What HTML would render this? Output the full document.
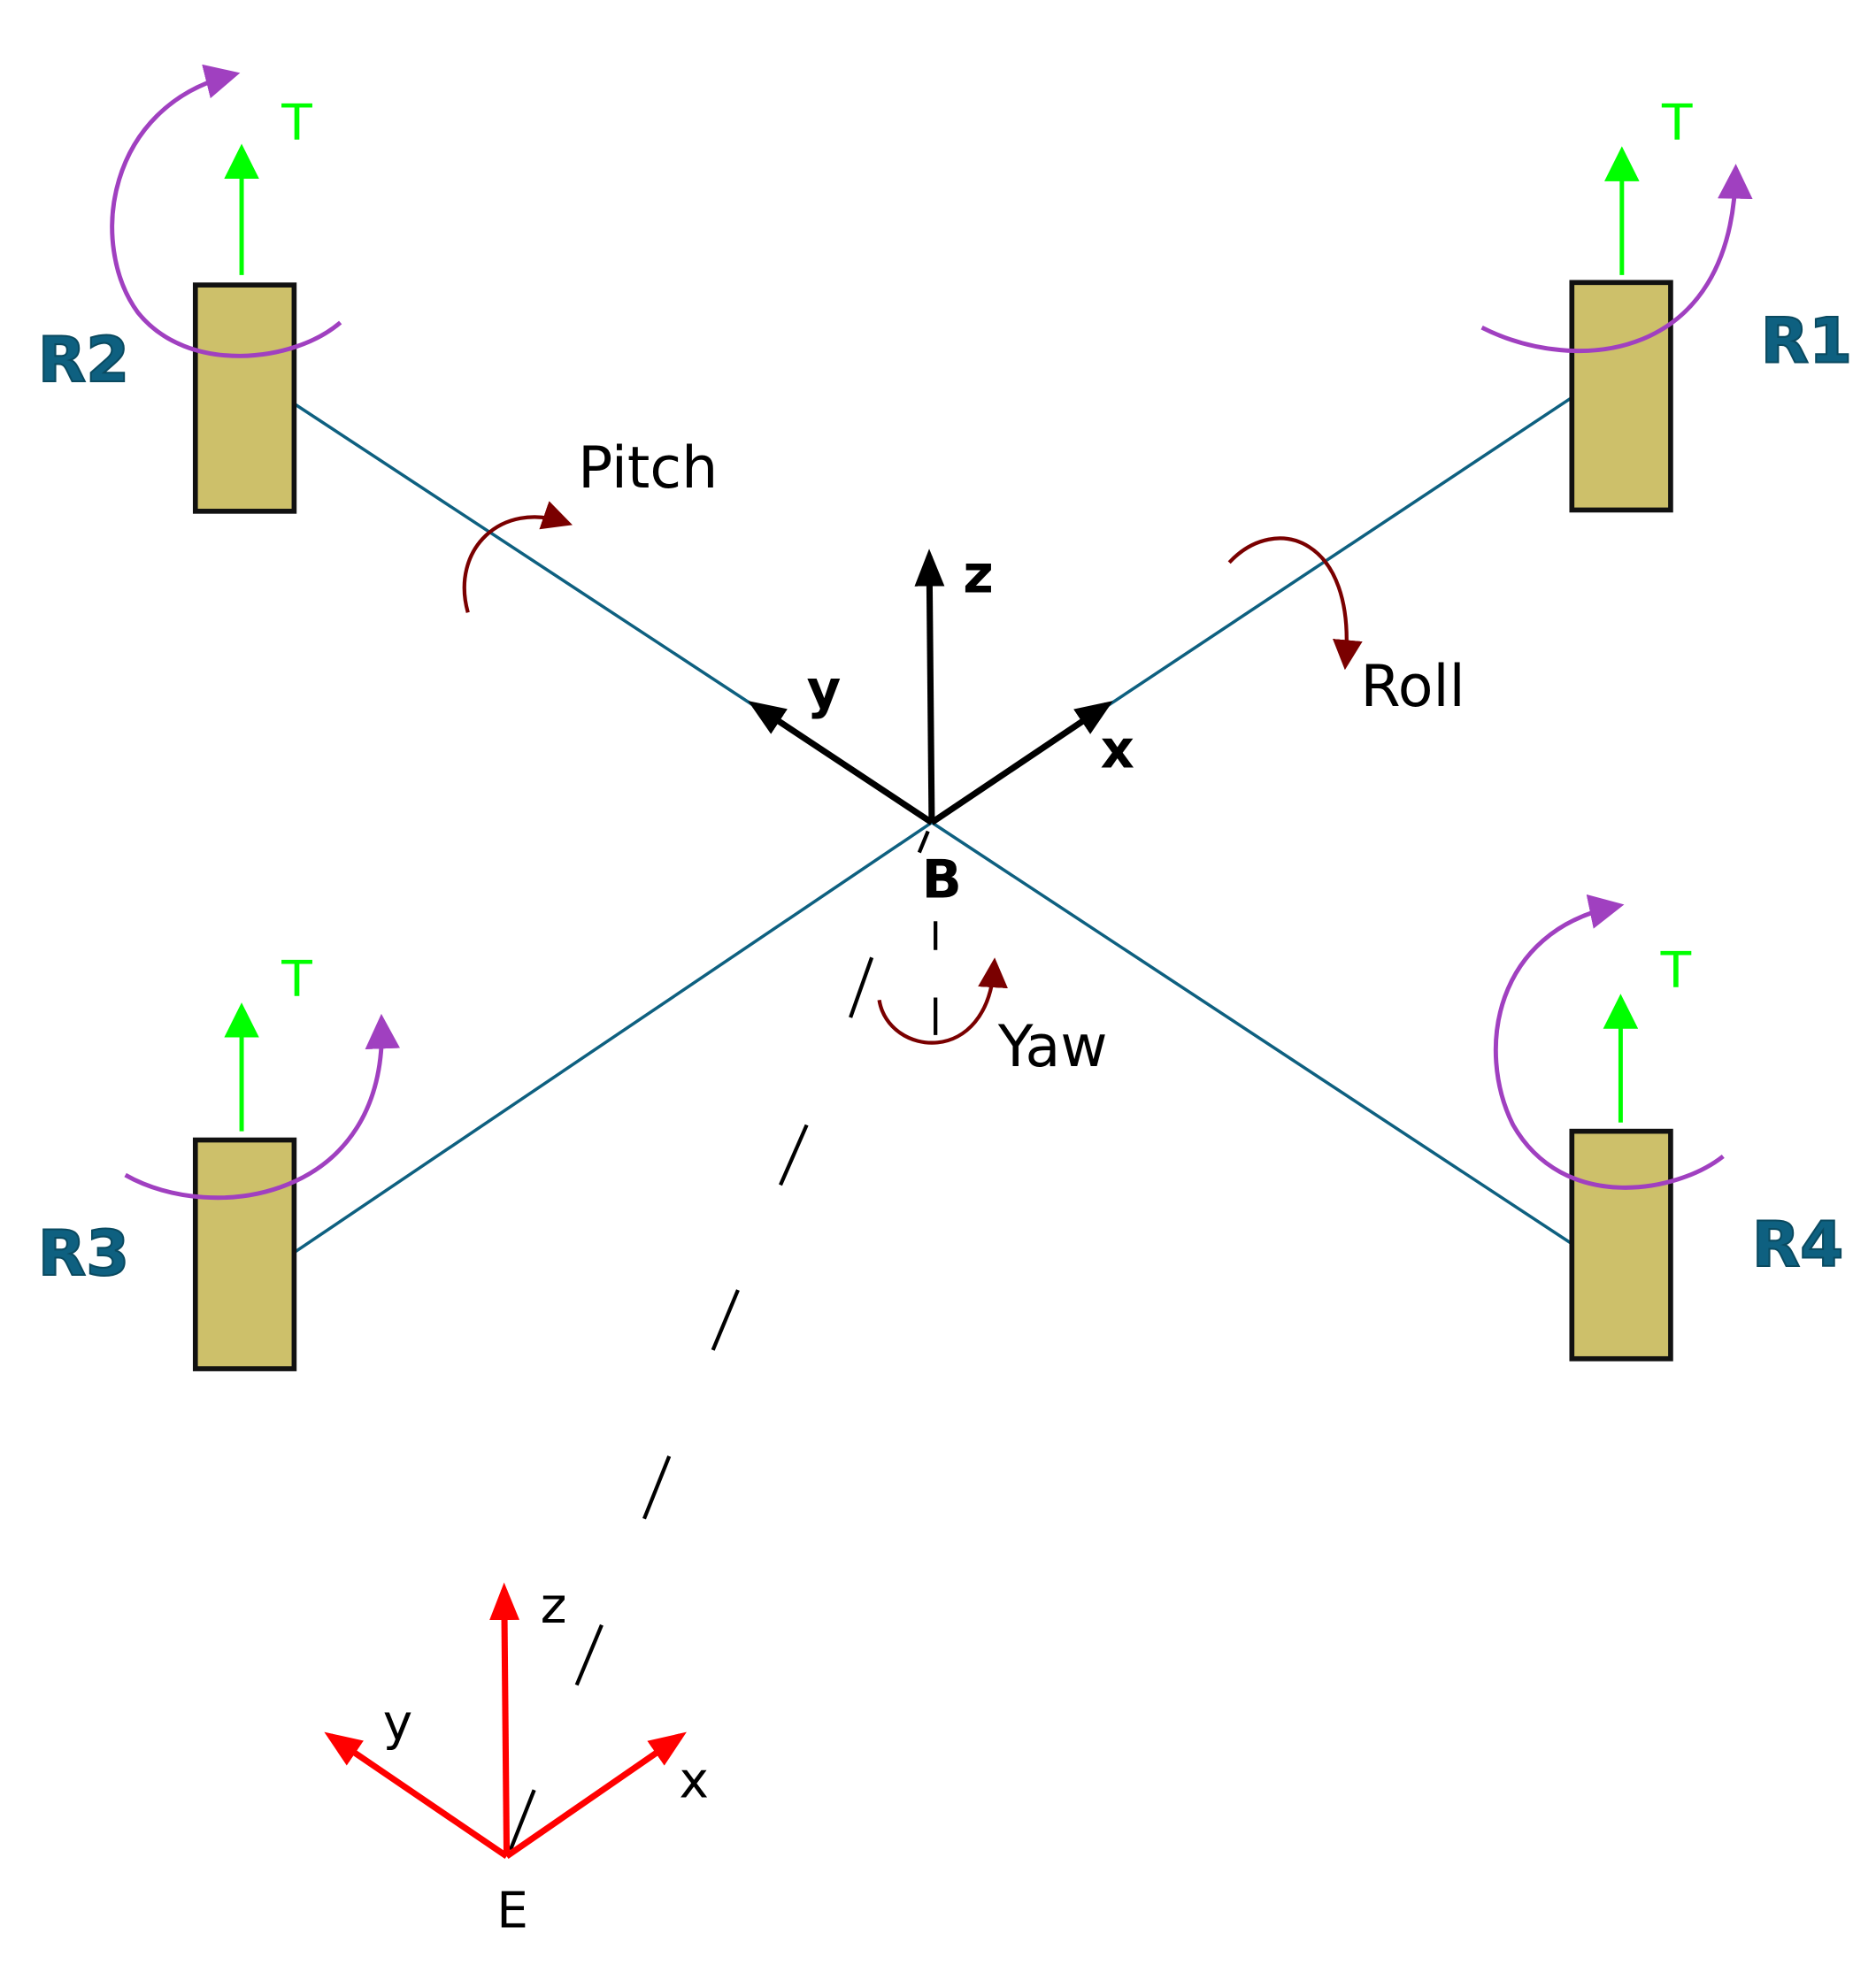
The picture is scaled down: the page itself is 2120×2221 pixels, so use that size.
<!DOCTYPE html>
<html><head><meta charset="utf-8"><style>
html,body{margin:0;padding:0;background:#fff;}
svg{display:block;}
text{font-family:"DejaVu Sans","Liberation Sans",sans-serif;}
</style></head><body>
<svg width="2120" height="2221" viewBox="0 0 1500 1572" xmlns="http://www.w3.org/2000/svg">
<defs>
<marker id="ab" markerWidth="30" markerHeight="30" refX="24" refY="12" orient="auto" markerUnits="userSpaceOnUse"><path d="M0,0 L30,12 L0,24 z" fill="#000"/></marker>
<marker id="ag" markerWidth="8" markerHeight="8" refX="6" refY="4" orient="auto" markerUnits="strokeWidth"><path d="M0,0 L8,4 L0,8 z" fill="#00ff00"/></marker>
<marker id="ar" markerWidth="30" markerHeight="30" refX="24" refY="12" orient="auto" markerUnits="userSpaceOnUse"><path d="M0,0 L30,12 L0,24 z" fill="#ff0000"/></marker>
<marker id="ap" markerWidth="8" markerHeight="8" refX="6" refY="4" orient="auto" markerUnits="strokeWidth"><path d="M0,0 L8,4 L0,8 z" fill="#a040c0"/></marker>
<marker id="ad" markerWidth="8" markerHeight="8" refX="6" refY="4" orient="auto" markerUnits="strokeWidth"><path d="M0,0 L8,4 L0,8 z" fill="#7a0000"/></marker>
</defs>

<g stroke="#0e6080" stroke-width="2.5" fill="none">
<line x1="232" y1="321" x2="745" y2="658"/>
<line x1="1257" y1="318" x2="745" y2="658"/>
<line x1="235" y1="1002" x2="745" y2="658"/>
<line x1="1257" y1="995" x2="745" y2="658"/>
</g>

<g fill="#cdc06a" stroke="#111" stroke-width="4">
<rect x="156" y="228" width="79" height="181"/>
<rect x="1257" y="226" width="79" height="182"/>
<rect x="156" y="912" width="79" height="183"/>
<rect x="1257" y="905" width="79" height="182"/>
</g>

<g stroke="#00ff00" stroke-width="3.5" fill="none">
<line x1="193" y1="220" x2="193" y2="122" marker-end="url(#ag)"/>
<line x1="1297" y1="220" x2="1297" y2="124" marker-end="url(#ag)"/>
<line x1="193" y1="905" x2="193" y2="809" marker-end="url(#ag)"/>
<line x1="1296" y1="898" x2="1296" y2="802" marker-end="url(#ag)"/>
</g>
<g fill="#00ff00" font-size="40">
<text x="225" y="112">T</text>
<text x="1329" y="112">T</text>
<text x="225" y="797">T</text>
<text x="1328" y="790">T</text>
</g>

<g stroke="#a040c0" stroke-width="3.5" fill="none">
<path d="M272,258 C235,290 150,300 110,250 C70,195 85,85 185,60" marker-end="url(#ap)"/>
<path d="M1185,262 C1260,300 1385,290 1388,138" marker-end="url(#ap)"/>
<path d="M100,940 C170,980 310,960 305,818" marker-end="url(#ap)"/>
<path d="M1378,925 C1340,955 1250,970 1210,900 C1180,840 1195,745 1292,725" marker-end="url(#ap)"/>
</g>

<g stroke="#7a0000" stroke-width="3" fill="none">
<path d="M374,490 C360,440 400,400 452,418" marker-end="url(#ad)"/>
<path d="M983,450 C1020,410 1085,430 1076,530" marker-end="url(#ad)"/>
<path d="M703,800 C710,845 790,855 795,772" marker-end="url(#ad)"/>
</g>
<g fill="#000" font-size="46">
<text x="462" y="390">Pitch</text>
<text x="1088" y="565">Roll</text>
<text x="798" y="853">Yaw</text>
</g>

<g stroke="#000" stroke-width="3">
<line x1="742" y1="665" x2="735" y2="682"/>
<line x1="748" y1="737" x2="748" y2="760"/>
<line x1="748" y1="798" x2="748" y2="828"/>
<line x1="697" y1="766" x2="680" y2="814"/>
<line x1="645" y1="900" x2="624" y2="948"/>
<line x1="590" y1="1032" x2="570" y2="1080"/>
<line x1="535" y1="1165" x2="515" y2="1215"/>
<line x1="481" y1="1300" x2="461" y2="1348"/>
<line x1="427" y1="1432" x2="408" y2="1480"/>
</g>

<g stroke="#000" stroke-width="5" fill="none">
<line x1="745" y1="658" x2="743" y2="445" marker-end="url(#ab)"/>
<line x1="745" y1="658" x2="603" y2="564" marker-end="url(#ab)"/>
<line x1="745" y1="658" x2="885" y2="564" marker-end="url(#ab)"/>
</g>
<g fill="#000" font-size="42" font-weight="bold">
<text x="770" y="474">z</text>
<text x="645" y="566">y</text>
<text x="880" y="614">x</text>
<text x="737" y="718">B</text>
</g>

<g stroke="#ff0000" stroke-width="5" fill="none">
<line x1="405" y1="1485" x2="403" y2="1272" marker-end="url(#ar)"/>
<line x1="405" y1="1485" x2="264" y2="1389" marker-end="url(#ar)"/>
<line x1="405" y1="1485" x2="544" y2="1389" marker-end="url(#ar)"/>
</g>
<g fill="#000" font-size="40">
<text x="432" y="1298">z</text>
<text x="306" y="1392">y</text>
<text x="543" y="1438">x</text>
<text x="397" y="1542">E</text>
</g>

<g fill="#0e6080" stroke="#0a4a60" stroke-width="1.5" font-size="50" font-weight="bold">
<text x="30" y="305">R2</text>
<text x="1408" y="290">R1</text>
<text x="30" y="1020">R3</text>
<text x="1401" y="1013">R4</text>
</g>
</svg>
</body></html>
